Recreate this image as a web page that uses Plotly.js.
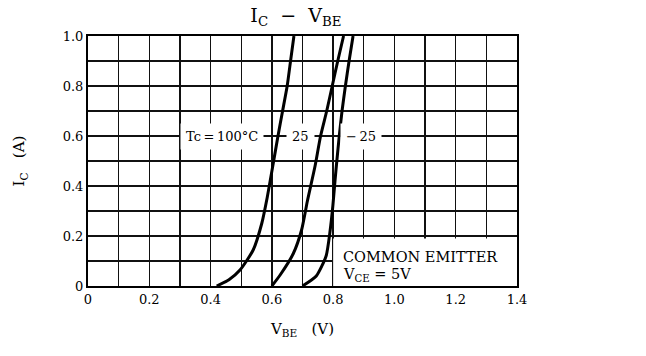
<!DOCTYPE html>
<html>
<head>
<meta charset="utf-8">
<script src="https://cdn.plot.ly/plotly-3.0.1.min.js"></script>
<style>html,body{margin:0;padding:0;background:#fff;}#chart{width:646px;height:356px;}</style>
</head>
<body>
<div id="chart"></div>
<script>
// Data (VBE in V, IC in A)
var seriesNames = ["Tc=100°C", "25", "-25"];
var vbe100 = [0.42, 0.46, 0.496, 0.539, 0.567, 0.585, 0.603, 0.62, 0.635, 0.65, 0.661, 0.672];
var ic100  = [0.0, 0.025, 0.064, 0.144, 0.25, 0.355, 0.48, 0.6, 0.70, 0.80, 0.90, 1.0];
var vbe25  = [0.60, 0.627, 0.67, 0.697, 0.716, 0.741, 0.759, 0.779, 0.797, 0.815, 0.834];
var ic25   = [0.0, 0.044, 0.13, 0.224, 0.34, 0.48, 0.60, 0.70, 0.80, 0.90, 1.0];
var vbeM25 = [0.70, 0.745, 0.777, 0.79, 0.799, 0.806, 0.812, 0.82, 0.829, 0.84, 0.852, 0.865];
var icM25  = [0.0, 0.04, 0.12, 0.22, 0.32, 0.42, 0.50, 0.60, 0.70, 0.80, 0.90, 1.0];
var xTickVals = [0, 0.2, 0.4, 0.6, 0.8, 1.0, 1.2, 1.4];
var xTickText = ["0", "0.2", "0.4", "0.6", "0.8", "1.0", "1.2", "1.4"];
var yTickVals = [0, 0.2, 0.4, 0.6, 0.8, 1.0];
var yTickText = ["0", "0.2", "0.4", "0.6", "0.8", "1.0"];

var FONT = "DejaVu Serif, Liberation Serif, serif";
var lineStyle = {color: "#000", width: 3, shape: "spline", smoothing: 0.6};
var traces = [
  {x: vbe100, y: ic100, name: seriesNames[0], mode: "lines", line: lineStyle, hoverinfo: "skip"},
  {x: vbe25, y: ic25, name: seriesNames[1], mode: "lines", line: lineStyle, hoverinfo: "skip"},
  {x: vbeM25, y: icM25, name: seriesNames[2], mode: "lines", line: lineStyle, hoverinfo: "skip"}
];

var gridColor = "#111";
var layout = {
  width: 646, height: 356,
  margin: {l: 88, r: 129, t: 36, b: 70},
  paper_bgcolor: "#fff", plot_bgcolor: "#fff",
  showlegend: false,
  font: {family: FONT, color: "#000", size: 13},
  title: {text: "I<sub>C</sub>  \u2212  V<sub>BE</sub>", font: {family: FONT, size: 19, color: "#000"},
          x: 0.458, xanchor: "center", y: 0.958, yanchor: "middle"},
  xaxis: {
    range: [0, 1.4], tickvals: xTickVals, ticktext: xTickText, ticks: "",
    showgrid: true, gridcolor: gridColor, gridwidth: 1.4,
    minor: {dtick: 0.1, showgrid: true, gridcolor: gridColor, gridwidth: 1.2, ticks: ""},
    showline: true, linecolor: "#000", linewidth: 2, mirror: true, zeroline: false,
    tickfont: {family: FONT, size: 13, color: "#000"},
    title: {text: "V<sub>BE</sub>   (V)", font: {family: FONT, size: 15, color: "#000"}, standoff: 18}
  },
  yaxis: {
    range: [0, 1.0], tickvals: yTickVals, ticktext: yTickText, ticks: "",
    showgrid: true, gridcolor: gridColor, gridwidth: 1.4,
    minor: {dtick: 0.1, showgrid: true, gridcolor: gridColor, gridwidth: 1.2, ticks: ""},
    showline: true, linecolor: "#000", linewidth: 2, mirror: true, zeroline: false,
    tickfont: {family: FONT, size: 13, color: "#000"},
    title: {text: "I<sub>C</sub>   (A)", font: {family: FONT, size: 15, color: "#000"}, standoff: 34}
  },
  shapes: [
    {type: "rect", xref: "x", yref: "y", x0: 0.8, x1: 1.4, y0: 0, y1: 0.19,
     fillcolor: "#fff", line: {width: 0}, layer: "between"}
  ],
  annotations: [
    {x: 0.437, y: 0.6, xref: "x", yref: "y", text: "Tc\u2009=\u2009100\u00b0C", showarrow: false,
     bgcolor: "#fff", borderpad: 5, font: {family: FONT, size: 13, color: "#000"}},
    {x: 0.692, y: 0.6, xref: "x", yref: "y", text: "25", showarrow: false,
     bgcolor: "#fff", borderpad: 5, font: {family: FONT, size: 13, color: "#000"}},
    {x: 0.892, y: 0.6, xref: "x", yref: "y", text: "\u2212\u200925", showarrow: false,
     bgcolor: "#fff", borderpad: 5, font: {family: FONT, size: 13, color: "#000"}},
    {x: 0.825, y: 0.115, xref: "x", yref: "y", xanchor: "left", text: "COMMON EMITTER", showarrow: false,
     font: {family: FONT, size: 14.5, color: "#000"}},
    {x: 0.825, y: 0.045, xref: "x", yref: "y", xanchor: "left", text: "V<sub>CE</sub> = 5V", showarrow: false,
     font: {family: FONT, size: 14.5, color: "#000"}}
  ]
};

Plotly.newPlot("chart", traces, layout, {staticPlot: true, displayModeBar: false});
</script>
</body>
</html>
